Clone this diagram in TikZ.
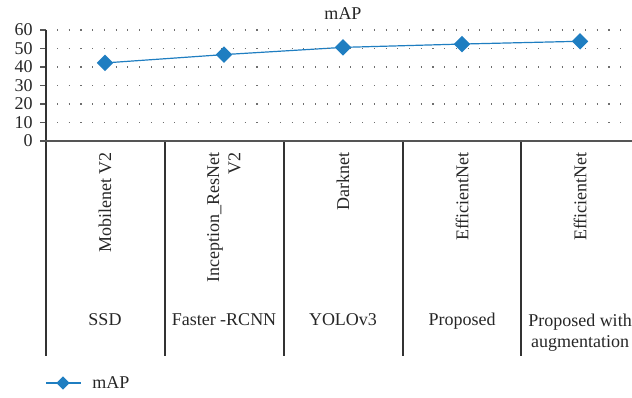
\documentclass[tikz,border=0pt]{standalone}
\usepackage{fontspec}
\setmainfont{Liberation Serif}
\usetikzlibrary{shapes.geometric,backgrounds}
\definecolor{seriesblue}{HTML}{1F7EC1}
\definecolor{axisgray}{HTML}{555555}
\definecolor{dotgray}{HTML}{6E6E6E}
\tikzset{
  lbl/.style={font=\fontsize{13.5}{16}\selectfont, text=black!85, inner sep=0pt},
  ticklbl/.style={lbl, anchor=east},
  rotlbl/.style={lbl, rotate=90, anchor=east, align=right},
  catlbl/.style={lbl, anchor=base, align=center},
  pt/.style={diamond, fill=seriesblue, draw=none, inner sep=0pt, minimum width=12.5pt, minimum height=12.5pt},
  legpt/.style={pt, minimum width=10pt, minimum height=10pt},
  series/.style={draw=seriesblue, line width=0.9pt},
  grid dots/.style={draw=dotgray, line width=0.8pt, dash pattern=on 0.8pt off 8pt},
  axis/.style={draw=axisgray, line width=1.4pt},
  sep/.style={draw=black!80, line width=0.9pt}
}
\begin{document}
\begin{tikzpicture}[x=0.75pt,y=-0.75pt]
  \useasboundingbox (0,0) rectangle (632,398);
  \clip (0,0) rectangle (632,398);
  % title
  \node[lbl] (title) at (343,14) {mAP};
  % dotted grid lines and y ticks
  \foreach \v in {10,20,...,60}{
    \draw[grid dots] (57,{141-1.85*\v}) -- (632,{141-1.85*\v});
    \draw[axis, line width=0.9pt] (40,{141-1.85*\v}) -- (46,{141-1.85*\v});
  }
  \foreach \v in {0,10,...,60}{
    \node[ticklbl] (t\v) at (33,{141-1.85*\v}) {\v};
  }
  % category separators
  \foreach \x in {165,284,403,521}{
    \draw[sep] (\x,141) -- (\x,356);
  }
  \draw[sep] (46,30) -- (46,356);
  % horizontal axis
  \draw[axis] (40,141) -- (632,141);
  % rotated model labels
  \node[rotlbl] (m1) at (105,152) {Mobilenet V2};
  \node[rotlbl] (m2) at (224,152) {Inception\_ResNet\\V2};
  \node[rotlbl] (m3) at (343,152) {Darknet};
  \node[rotlbl] (m4) at (462,152) {EfficientNet};
  \node[rotlbl] (m5) at (580,152) {EfficientNet};
  % detector labels
  \node[catlbl] (c1) at (105,326) {SSD};
  \node[catlbl] (c2) at (224,326) {Faster -RCNN};
  \node[catlbl] (c3) at (343,326) {YOLOv3};
  \node[catlbl] (c4) at (462,326) {Proposed};
  \node[catlbl, anchor=north] (c5) at (580,313.5) {Proposed with\\augmentation};
  % data series
  \node[pt] (p1) at (105,{141-1.85*42.2}) {};
  \node[pt] (p2) at (224,{141-1.85*46.7}) {};
  \node[pt] (p3) at (343,{141-1.85*50.6}) {};
  \node[pt] (p4) at (462,{141-1.85*52.4}) {};
  \node[pt] (p5) at (580,{141-1.85*53.9}) {};
  \begin{scope}[on background layer]
    \draw[series] (p1.center) -- (p2.center) -- (p3.center) -- (p4.center) -- (p5.center);
  \end{scope}
  % legend
  \coordinate (l0) at (46,383);
  \coordinate (l1) at (81,383);
  \draw[series] (l0) -- (l1);
  \node[legpt] (lp) at (63,383) {};
  \node[lbl, anchor=west] (lt) at (92,383) {mAP};
\end{tikzpicture}
\end{document}
